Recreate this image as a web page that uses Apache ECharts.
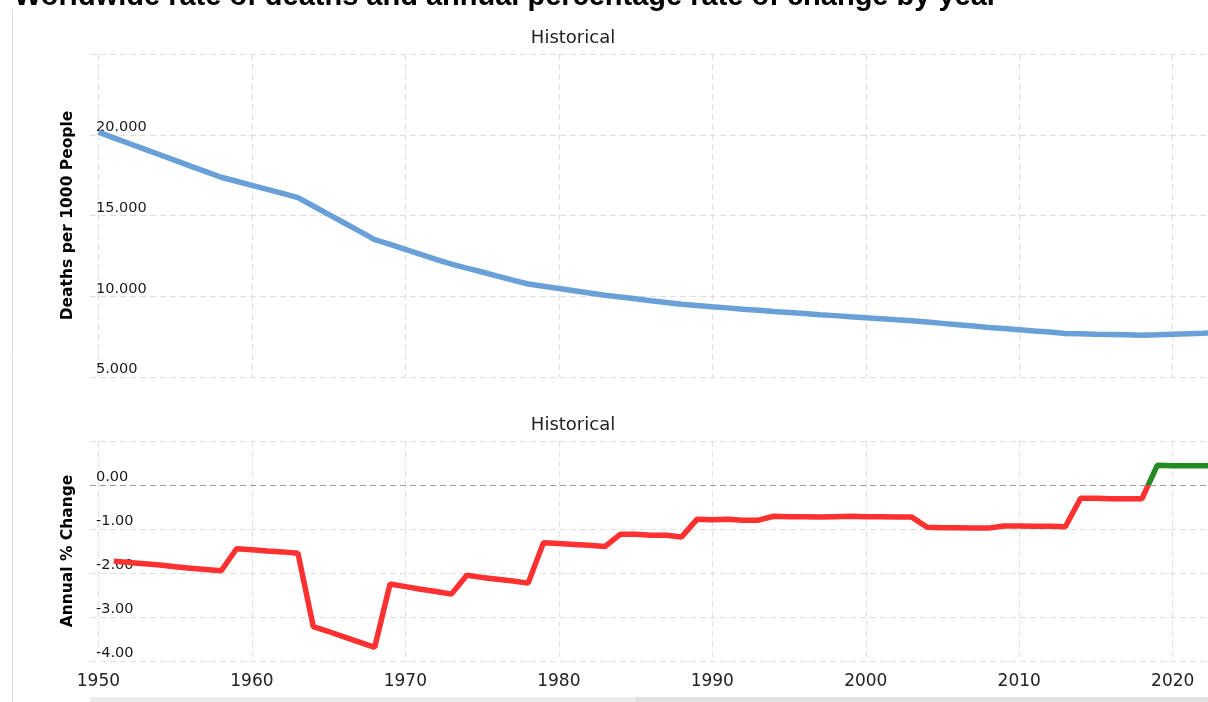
<!DOCTYPE html>
<html><head><meta charset="utf-8">
<script src="https://cdn.jsdelivr.net/npm/echarts@6/dist/echarts.min.js"></script>
<style>html,body{margin:0;padding:0;background:#fff}#c{width:1208px;height:702px}</style>
</head><body><div id="c"></div>
<script>
const titleText = 'Worldwide rate of deaths and annual percentage rate of change by year';
const panelTitle = 'Historical';
const yName1 = 'Deaths per 1000 People';
const yName2 = 'Annual % Change';
const decadeTicks = [1950, 1960, 1970, 1980, 1990, 2000, 2010, 2020];

const rateYears = [1950,1951,1952,1953,1954,1955,1956,1957,1958,1959,1960,1961,1962,1963,1964,1965,1966,1967,1968,1969,
1970,1971,1972,1973,1974,1975,1976,1977,1978,1979,1980,1981,1982,1983,1984,1985,1986,1987,1988,1989,
1990,1991,1992,1993,1994,1995,1996,1997,1998,1999,2000,2001,2002,2003,2004,2005,2006,2007,2008,2009,
2010,2011,2012,2013,2014,2015,2016,2017,2018,2019,2020,2021,2022,2023];
const deathRate = [20.16,19.81,19.46,19.11,18.76,18.41,18.06,17.72,17.37,17.12,16.87,16.62,16.37,16.11,15.59,15.07,14.55,14.03,13.51,13.21,
12.90,12.59,12.29,11.99,11.74,11.50,11.25,11.00,10.76,10.62,10.48,10.34,10.20,10.06,9.95,9.84,9.72,9.61,9.50,9.43,
9.35,9.28,9.20,9.13,9.06,9.00,8.93,8.86,8.80,8.73,8.67,8.61,8.54,8.48,8.40,8.32,8.24,8.16,8.07,8.00,
7.93,7.85,7.78,7.70,7.68,7.65,7.63,7.61,7.58,7.61,7.65,7.68,7.71,7.75];

const changeYears = [1951,1952,1953,1954,1955,1956,1957,1958,1959,1960,1961,1962,1963,1964,1965,1966,1967,1968,1969,
1970,1971,1972,1973,1974,1975,1976,1977,1978,1979,1980,1981,1982,1983,1984,1985,1986,1987,1988,1989,
1990,1991,1992,1993,1994,1995,1996,1997,1998,1999,2000,2001,2002,2003,2004,2005,2006,2007,2008,2009,
2010,2011,2012,2013,2014,2015,2016,2017,2018,2019,2020,2021,2022,2023];
const pctChange = [-1.73,-1.76,-1.79,-1.82,-1.86,-1.89,-1.92,-1.95,-1.45,-1.47,-1.50,-1.52,-1.55,-3.22,-3.33,-3.45,-3.57,-3.69,-2.25,
-2.31,-2.37,-2.42,-2.48,-2.05,-2.10,-2.14,-2.18,-2.23,-1.31,-1.33,-1.35,-1.37,-1.40,-1.12,-1.12,-1.14,-1.14,-1.18,-0.78,
-0.79,-0.78,-0.80,-0.80,-0.71,-0.72,-0.72,-0.73,-0.72,-0.71,-0.72,-0.72,-0.73,-0.73,-0.96,-0.97,-0.97,-0.98,-0.98,-0.93,
-0.93,-0.94,-0.94,-0.95,-0.30,-0.30,-0.31,-0.31,-0.31,0.45,0.44,0.44,0.44,0.43];

const chart = echarts.init(document.getElementById('c'));
const gridLine = { show: true, lineStyle: { type: [6, 4], color: '#dedede', width: 1 } };
const labelFont = '"DejaVu Sans", Verdana, sans-serif';

function xAxisCfg(gi, showLabels) {
  return {
    gridIndex: gi, type: 'value', min: 1949.45, max: 2022.3,
    axisLine: { show: false },
    axisTick: { show: false, customValues: decadeTicks },
    axisLabel: { show: showLabels, customValues: decadeTicks, fontFamily: labelFont, fontSize: 17, color: '#222', margin: 12,
      formatter: v => String(v) },
    splitLine: gridLine
  };
}

chart.setOption({
  animation: false,
  backgroundColor: '#fff',
  graphic: [
    { type: 'line', shape: { x1: 12.5, y1: 9, x2: 12.5, y2: 702 }, style: { stroke: '#dcdcdc', lineWidth: 1 } },
    { type: 'text', x: 14, y: 11, style: { text: titleText, verticalAlign: 'bottom', font: 'bold 29px "Liberation Sans", Arial, sans-serif', fill: '#000' } },
    { type: 'text', x: 573, y: 38, style: { text: panelTitle, align: 'center', verticalAlign: 'middle', font: '18px "DejaVu Sans", Verdana, sans-serif', fill: '#222' } },
    { type: 'text', x: 573, y: 425, style: { text: panelTitle, align: 'center', verticalAlign: 'middle', font: '18px "DejaVu Sans", Verdana, sans-serif', fill: '#222' } },
    { type: 'rect', shape: { x: 90, y: 697, width: 545, height: 5 }, style: { fill: '#ececec' } },
    { type: 'rect', shape: { x: 635, y: 697, width: 573, height: 5 }, style: { fill: '#e0e0e0' } }
  ],
  grid: [
    { left: 90, right: 0, top: 54, height: 323 },
    { left: 90, right: 0, top: 441, height: 220 }
  ],
  xAxis: [xAxisCfg(0, false), xAxisCfg(1, true)],
  yAxis: [
    { gridIndex: 0, type: 'value', min: 5, max: 25, interval: 5,
      name: yName1, nameLocation: 'middle', nameGap: 14,
      nameTextStyle: { fontFamily: labelFont, fontWeight: 'bold', fontSize: 15.5, color: '#000' },
      axisLine: { show: false }, axisTick: { show: false },
      axisLabel: { inside: true, margin: 6, verticalAlign: 'bottom', fontFamily: labelFont, fontSize: 14.5, color: '#1a1a1a',
        formatter: v => v >= 25 ? '' : v.toFixed(3) },
      splitLine: gridLine },
    { gridIndex: 1, type: 'value', min: -4, max: 1, interval: 1,
      name: yName2, nameLocation: 'middle', nameGap: 14,
      nameTextStyle: { fontFamily: labelFont, fontWeight: 'bold', fontSize: 15.5, color: '#000' },
      axisLine: { show: false }, axisTick: { show: false },
      axisLabel: { inside: true, margin: 6, verticalAlign: 'bottom', fontFamily: labelFont, fontSize: 14.5, color: '#1a1a1a',
        formatter: v => v >= 1 ? '' : v.toFixed(2) },
      splitLine: gridLine }
  ],
  visualMap: {
    type: 'piecewise', show: false, seriesIndex: 1, dimension: 1,
    pieces: [{ min: -10, max: 0, color: '#ff3030' }, { gt: 0, max: 10, color: '#228b22' }],
    outOfRange: { color: '#ff3030' }
  },
  series: [
    { type: 'line', xAxisIndex: 0, yAxisIndex: 0, showSymbol: false, symbol: 'none',
      data: rateYears.map((y, i) => [y, deathRate[i]]),
      lineStyle: { color: '#6aa0d8', width: 5.5 }, itemStyle: { color: '#6aa0d8' } },
    { type: 'line', xAxisIndex: 1, yAxisIndex: 1, showSymbol: false, symbol: 'none',
      data: changeYears.map((y, i) => [y, pctChange[i]]),
      lineStyle: { width: 5.5 } },
    { type: 'line', xAxisIndex: 1, yAxisIndex: 1, symbol: 'none', data: [],
      markLine: { silent: true, symbol: 'none', label: { show: false }, animation: false,
        lineStyle: { type: [6, 4], color: '#9a9a9a', width: 1 }, data: [{ yAxis: 0 }] } }
  ]
});
</script></body></html>
